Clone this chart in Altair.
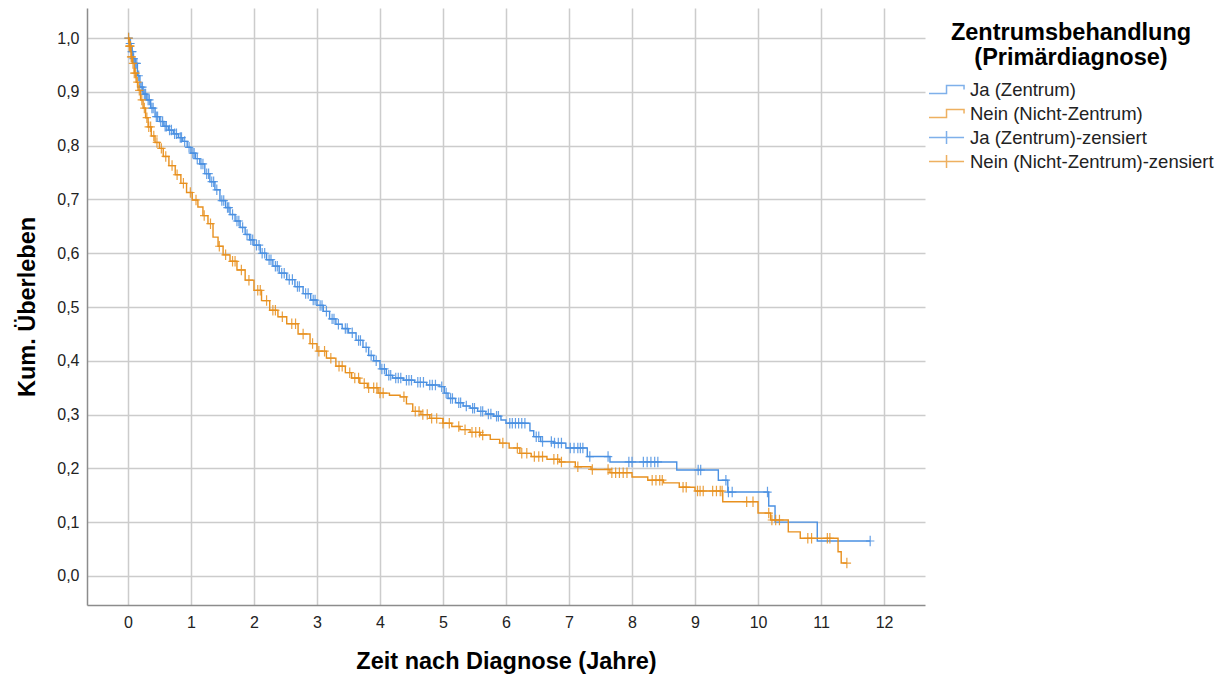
import altair as alt
import numpy as np
import pandas as pd

# Kaplan-Meier step points (time in years, cumulative survival)
ja_steps = [
    (0.00, 1.000), (0.02, 0.990), (0.05, 0.975), (0.08, 0.962), (0.11, 0.953),
    (0.15, 0.930), (0.19, 0.909), (0.24, 0.896), (0.30, 0.885), (0.36, 0.870),
    (0.43, 0.854), (0.50, 0.845), (0.57, 0.836), (0.64, 0.829), (0.72, 0.822),
    (0.80, 0.815), (0.87, 0.808), (0.94, 0.797), (1.00, 0.786), (1.07, 0.776),
    (1.14, 0.766), (1.22, 0.748), (1.30, 0.733), (1.38, 0.718), (1.46, 0.698),
    (1.55, 0.685), (1.62, 0.672), (1.70, 0.660), (1.78, 0.648), (1.86, 0.635),
    (1.93, 0.625), (2.00, 0.615), (2.10, 0.600), (2.20, 0.588), (2.30, 0.576),
    (2.40, 0.563), (2.52, 0.551), (2.65, 0.538), (2.78, 0.525), (2.90, 0.513),
    (3.00, 0.503), (3.10, 0.492), (3.20, 0.478), (3.30, 0.468), (3.40, 0.460),
    (3.50, 0.452), (3.62, 0.438), (3.73, 0.425), (3.82, 0.410), (3.90, 0.400),
    (4.00, 0.385), (4.10, 0.373), (4.20, 0.368), (4.37, 0.364), (4.55, 0.360),
    (4.74, 0.355), (4.95, 0.352), (5.02, 0.340), (5.08, 0.330), (5.20, 0.322),
    (5.32, 0.316), (5.43, 0.312), (5.55, 0.306), (5.68, 0.301), (5.80, 0.297),
    (5.92, 0.290), (6.00, 0.284), (6.38, 0.270), (6.44, 0.259), (6.55, 0.250),
    (6.75, 0.247), (6.95, 0.238), (7.29, 0.222), (7.65, 0.212), (8.71, 0.197),
    (9.37, 0.178), (9.52, 0.156), (10.17, 0.130), (10.27, 0.100), (10.94, 0.065),
    (11.78, 0.065),
]

nein_steps = [
    (0.00, 1.000), (0.02, 0.985), (0.05, 0.965), (0.07, 0.953), (0.10, 0.935),
    (0.13, 0.918), (0.16, 0.903), (0.20, 0.885), (0.24, 0.870), (0.28, 0.852),
    (0.32, 0.835), (0.37, 0.818), (0.43, 0.806), (0.50, 0.795), (0.56, 0.780),
    (0.65, 0.763), (0.75, 0.746), (0.84, 0.730), (0.93, 0.713), (1.02, 0.699),
    (1.11, 0.686), (1.19, 0.670), (1.27, 0.655), (1.35, 0.630), (1.43, 0.613),
    (1.51, 0.597), (1.62, 0.585), (1.73, 0.569), (1.86, 0.550), (2.00, 0.531),
    (2.12, 0.512), (2.25, 0.494), (2.38, 0.482), (2.52, 0.469), (2.70, 0.450),
    (2.89, 0.432), (3.00, 0.418), (3.15, 0.405), (3.30, 0.390), (3.45, 0.378),
    (3.55, 0.368), (3.68, 0.358), (3.80, 0.350), (3.97, 0.340), (4.15, 0.336),
    (4.32, 0.333), (4.42, 0.320), (4.52, 0.306), (4.65, 0.300), (4.79, 0.293),
    (5.00, 0.284), (5.14, 0.278), (5.27, 0.272), (5.43, 0.267), (5.59, 0.262),
    (5.75, 0.254), (5.90, 0.247), (6.05, 0.238), (6.22, 0.228), (6.40, 0.222),
    (6.65, 0.217), (6.85, 0.212), (7.10, 0.203), (7.35, 0.198), (7.65, 0.192),
    (8.00, 0.184), (8.25, 0.178), (8.50, 0.173), (8.75, 0.165), (9.00, 0.158),
    (9.44, 0.138), (10.00, 0.117), (10.20, 0.104), (10.48, 0.082), (10.67, 0.070),
    (11.27, 0.045), (11.32, 0.024), (11.41, 0.024),
]

# censored observation times (years)
ja_censored = [
    0.01, 0.03, 0.04, 0.06, 0.07, 0.09, 0.12, 0.14, 0.17, 0.21, 0.23, 0.26, 0.28,
    0.32, 0.34, 0.38, 0.40, 0.45, 0.47, 0.52, 0.55, 0.59, 0.61, 0.66, 0.69, 0.74,
    0.77, 0.83, 0.85, 0.90, 0.97, 1.03, 1.05, 1.10, 1.16, 1.19, 1.25, 1.28, 1.33,
    1.36, 1.41, 1.49, 1.52, 1.58, 1.60, 1.66, 1.73, 1.76, 1.82, 1.89, 1.95, 1.98,
    2.04, 2.08, 2.13, 2.17, 2.24, 2.27, 2.34, 2.37, 2.44, 2.48, 2.56, 2.61, 2.69,
    2.72, 2.82, 2.86, 2.94, 2.97, 3.05, 3.08, 3.15, 3.24, 3.27, 3.34, 3.45, 3.48,
    3.56, 3.66, 3.69, 3.78, 3.86, 3.94, 4.03, 4.07, 4.14, 4.17, 4.25, 4.29, 4.33,
    4.42, 4.46, 4.50, 4.60, 4.64, 4.69, 4.79, 4.83, 4.88, 4.98, 5.05, 5.12, 5.15,
    5.25, 5.28, 5.37, 5.47, 5.50, 5.60, 5.63, 5.72, 5.76, 5.85, 5.88, 6.06, 6.10,
    6.15, 6.20, 6.25, 6.30, 6.48, 6.52, 6.58, 6.72, 6.77, 6.83, 6.88, 7.02, 7.08,
    7.14, 7.18, 7.22, 7.33, 7.62, 7.95, 8.00, 8.18, 8.24, 8.30, 8.36, 8.41, 9.05,
    9.09, 9.49, 9.53, 9.59, 10.15, 11.78,
]

nein_censored = [
    0.01, 0.02, 0.03, 0.04, 0.05, 0.06, 0.08, 0.10, 0.12, 0.15, 0.18, 0.22, 0.26,
    0.30, 0.33, 0.36, 0.41, 0.46, 0.53, 0.60, 0.70, 0.78, 0.88, 0.99, 1.08, 1.21,
    1.31, 1.45, 1.55, 1.66, 1.70, 1.80, 1.92, 2.06, 2.10, 2.20, 2.30, 2.34, 2.45,
    2.60, 2.66, 2.78, 2.93, 3.03, 3.12, 3.22, 3.35, 3.40, 3.52, 3.60, 3.66, 3.75,
    3.82, 3.90, 3.95, 4.00, 4.05, 4.38, 4.56, 4.62, 4.68, 4.75, 4.82, 4.90, 5.00,
    5.10, 5.25, 5.35, 5.46, 5.52, 5.58, 5.63, 5.95, 6.18, 6.25, 6.33, 6.45, 6.52,
    6.58, 6.76, 6.82, 6.88, 7.14, 7.37, 7.62, 7.68, 7.74, 7.80, 7.86, 7.92, 8.32,
    8.38, 8.44, 8.48, 8.81, 8.86, 9.04, 9.08, 9.13, 9.28, 9.34, 9.40, 9.43, 9.82,
    9.92, 10.17, 10.22, 10.28, 10.34, 10.79, 10.85, 11.10, 11.14, 11.41,
]

legend_labels = [
    "Ja (Zentrum)",
    "Nein (Nicht-Zentrum)",
    "Ja (Zentrum)-zensiert",
    "Nein (Nicht-Zentrum)-zensiert",
]
x_ticks = list(range(0, 13))
y_ticks = [0.0, 0.1, 0.2, 0.3, 0.4, 0.5, 0.6, 0.7, 0.8, 0.9, 1.0]

BLUE = "#4a90e2"
ORANGE = "#e8901e"
FONT = "Liberation Sans"


def steps_df(steps):
    return pd.DataFrame(steps, columns=["t", "s"])


def censored_df(steps, times):
    st = np.array([p[0] for p in steps])
    sv = np.array([p[1] for p in steps])
    idx = np.searchsorted(st, np.array(times), side="right") - 1
    return pd.DataFrame({"t": times, "s": sv[idx]})


x_enc = alt.X(
    "t:Q",
    scale=alt.Scale(domain=[-0.65, 12.65], nice=False, zero=False),
    axis=alt.Axis(
        values=x_ticks,
        title="Zeit nach Diagnose (Jahre)",
        labelFontSize=16,
        labelPadding=9,
        titleFontSize=23.5,
        titleFontWeight="bold",
        titlePadding=19,
        ticks=False,
        grid=True,
        labelFlush=False,
    ),
)
y_enc = alt.Y(
    "s:Q",
    scale=alt.Scale(domain=[-0.054, 1.056], nice=False, zero=False),
    axis=alt.Axis(
        values=y_ticks,
        title="Kum. Überleben",
        labelExpr="replace(format(datum.value, '.1f'), '.', ',')",
        labelFontSize=16,
        labelPadding=8,
        titleFontSize=23.5,
        titleFontWeight="bold",
        titlePadding=17,
        ticks=False,
        grid=True,
        labelFlush=False,
    ),
)

plot_cross = "M-0.8,0L0.8,0M0,-1L0,1"
leg_step = "M-1,0.33L0.46,0.33L0.46,-0.33L1.92,-0.33L1.92,0"
leg_cross = "M-1,0L1.92,0M0.46,-0.55L0.46,0.55"

line_ja = alt.Chart(steps_df(ja_steps)).mark_line(
    interpolate="step-after", color=BLUE, strokeWidth=1.4
).encode(x=x_enc, y=y_enc)
line_nein = alt.Chart(steps_df(nein_steps)).mark_line(
    interpolate="step-after", color=ORANGE, strokeWidth=1.4
).encode(x=x_enc, y=y_enc)

cens_ja = alt.Chart(censored_df(ja_steps, ja_censored)).mark_point(
    shape=plot_cross, filled=False, size=110, strokeWidth=1.2, color=BLUE, opacity=0.85
).encode(x=x_enc, y=y_enc)
cens_nein = alt.Chart(censored_df(nein_steps, nein_censored)).mark_point(
    shape=plot_cross, filled=False, size=110, strokeWidth=1.2, color=ORANGE, opacity=0.85
).encode(x=x_enc, y=y_enc)

legend_title = ["Zentrumsbehandlung", "(Primärdiagnose)"]
legend_df = pd.DataFrame(
    {"label": legend_labels, "t": [None] * 4, "s": [None] * 4}
)
legend_layer = alt.Chart(legend_df).mark_point(filled=False, strokeWidth=1.5).encode(
    x=x_enc,
    y=y_enc,
    color=alt.Color(
        "label:N",
        scale=alt.Scale(domain=legend_labels, range=[BLUE, ORANGE, BLUE, ORANGE]),
        legend=alt.Legend(title=legend_title),
    ),
    shape=alt.Shape(
        "label:N",
        scale=alt.Scale(domain=legend_labels, range=[leg_step, leg_step, leg_cross, leg_cross]),
        legend=alt.Legend(title=legend_title),
    ),
)

chart = (
    alt.layer(legend_layer, line_ja, cens_ja, line_nein, cens_nein)
    .properties(
        width=838,
        height=597,
        padding={"left": 79, "top": 0, "right": 290, "bottom": 69},
        autosize=alt.AutoSizeParams(type="none"),
        background="white",
    )
    .configure(font=FONT)
    .configure_view(stroke=None)
    .configure_axis(
        gridColor="#cccccc",
        gridWidth=1.5,
        domainColor="#8c8c8c",
        domainWidth=1.5,
        labelColor="#222222",
        titleColor="#000000",
        labelFont=FONT,
        titleFont=FONT,
    )
    .configure_legend(
        orient="none",
        legendX=841,
        legendY=13,
        titleFontSize=23.5,
        titleFontWeight="bold",
        titleLineHeight=25,
        titleAlign="center",
        titleAnchor="middle",
        titlePadding=7,
        titleColor="#000000",
        titleLimit=400,
        labelFontSize=18.5,
        labelLimit=400,
        labelColor="#222222",
        labelOffset=16,
        symbolSize=576,
        symbolStrokeWidth=1.5,
        rowPadding=1,
        titleFont=FONT,
        labelFont=FONT,
    )
)

chart.save("out.html", embed_options={"renderer": "svg", "actions": False})
